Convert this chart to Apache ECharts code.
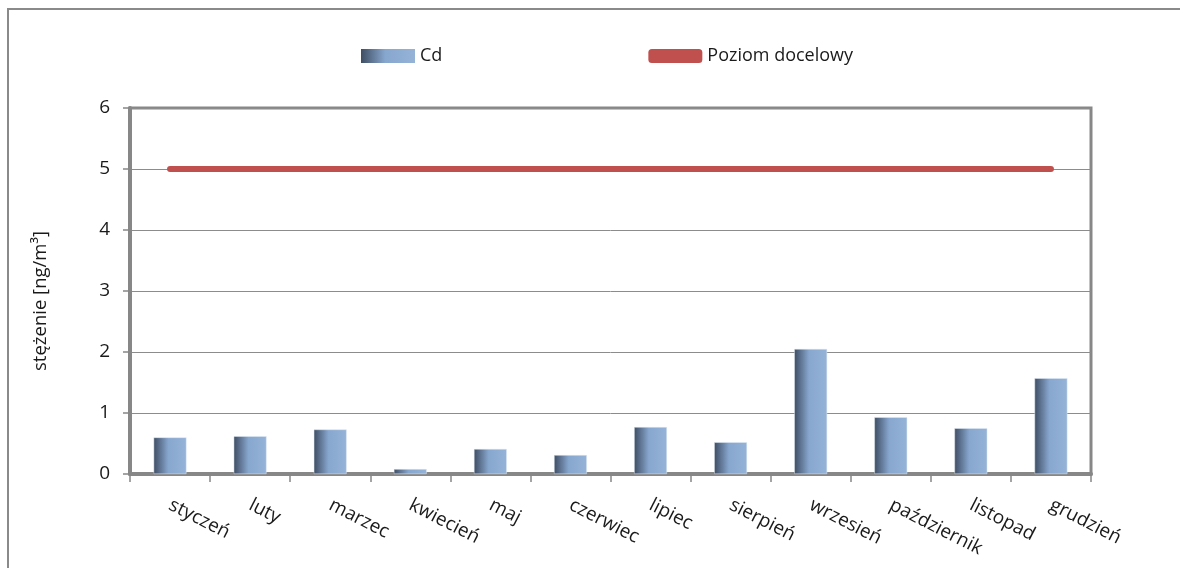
<!DOCTYPE html>
<html>
<head>
<meta charset="utf-8">
<script src="https://cdn.jsdelivr.net/npm/echarts@6/dist/echarts.min.js"></script>
<style>
  html, body { margin: 0; padding: 0; background: #fff; }
  #chart { width: 1180px; height: 568px; }
</style>
</head>
<body>
<div id="chart"></div>
<script>
// Monthly cadmium concentration against the target level
const months = ['styczeń', 'luty', 'marzec', 'kwiecień', 'maj', 'czerwiec',
  'lipiec', 'sierpień', 'wrzesień', 'październik', 'listopad', 'grudzień'];
const cdValues = [0.60, 0.62, 0.73, 0.08, 0.41, 0.31, 0.77, 0.52, 2.05, 0.93, 0.75, 1.57];
const targetLevel = [5, 5, 5, 5, 5, 5, 5, 5, 5, 5, 5, 5];
const yTicks = [0, 1, 2, 3, 4, 5, 6];

const FONT = '"Open Sans", "Noto Sans", sans-serif';
const chart = echarts.init(document.getElementById('chart'), null, { renderer: 'canvas' });

const barFill = new echarts.graphic.LinearGradient(0, 0, 1, 0, [
  { offset: 0, color: '#3e4d63' },
  { offset: 0.45, color: '#88a7cf' },
  { offset: 1, color: '#95b3d7' }
]);

chart.setOption({
  animation: false,
  backgroundColor: '#ffffff',
  textStyle: { fontFamily: FONT, color: '#1a1a1a' },
  graphic: [{
    type: 'rect',
    shape: { x: 8, y: 9, width: 1200, height: 600 },
    style: { fill: 'none', stroke: '#8a8a8a', lineWidth: 2 },
    silent: true,
    z: -10
  }],
  legend: {
    left: 356,
    top: 42,
    itemGap: 206,
    itemWidth: 54,
    itemHeight: 14,
    textStyle: { fontFamily: FONT, fontSize: 18, color: '#1a1a1a' },
    data: [
      { name: 'Cd', icon: 'rect', itemStyle: { color: barFill, borderWidth: 0 } },
      { name: 'Poziom docelowy', icon: 'roundRect', itemStyle: { color: '#c0504d' } }
    ]
  },
  grid: {
    left: 130, right: 89, top: 108, bottom: 94,
    show: true,
    borderColor: '#878787',
    borderWidth: 3
  },
  xAxis: {
    type: 'category',
    data: months,
    boundaryGap: true,
    axisLine: { lineStyle: { color: '#878787', width: 4 } },
    axisTick: { show: true, length: 8, lineStyle: { color: '#878787', width: 1.5 } },
    axisLabel: {
      rotate: -27,
      fontFamily: FONT,
      fontSize: 19,
      color: '#1a1a1a',
      margin: 30,
      interval: 0
    }
  },
  yAxis: {
    type: 'value',
    min: 0,
    max: 6,
    interval: 1,
    name: 'stężenie [ng/m³]',
    nameLocation: 'middle',
    nameGap: 80,
    nameRotate: 90,
    nameTextStyle: { fontFamily: FONT, fontSize: 18.5, color: '#1a1a1a', padding: [0, 20, 0, 0] },
    axisLine: { show: true, lineStyle: { color: '#878787', width: 4 } },
    axisTick: { show: true, length: 7, lineStyle: { color: '#878787', width: 1.5 } },
    axisLabel: {
      fontFamily: FONT, fontSize: 19, color: '#1a1a1a', margin: 20,
      formatter: v => yTicks.includes(v) ? String(v) : ''
    },
    splitLine: { lineStyle: { color: '#8c8c8c', width: 1 } }
  },
  series: [
    {
      name: 'Cd',
      type: 'bar',
      data: cdValues,
      barWidth: '41%',
      itemStyle: { color: barFill, borderColor: '#dfe8f3', borderWidth: 0.5 },
      z: 2
    },
    {
      name: 'Poziom docelowy',
      type: 'line',
      data: targetLevel,
      showSymbol: false,
      symbol: 'none',
      lineStyle: { color: '#c0504d', width: 6, cap: 'round' },
      itemStyle: { color: '#c0504d' },
      z: 3
    }
  ]
});
</script>
</body>
</html>
